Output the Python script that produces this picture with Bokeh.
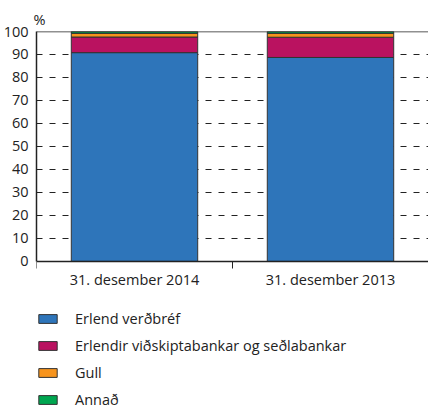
from bokeh.plotting import figure
from bokeh.models import (ColumnDataSource, FixedTicker, Legend, Span, Range1d)
from bokeh.embed import file_html
from bokeh.resources import INLINE

# ---- data ----
categories = ["31. desember 2014", "31. desember 2013"]
series_names = ["Erlend verðbréf", "Erlendir viðskiptabankar og seðlabankar", "Gull", "Annað"]
erlend_verdbref = [90.8, 88.7]
erlendir_bankar = [6.8, 8.8]
gull = [1.6, 1.7]
annad = [0.8, 0.8]
y_ticks = [0, 10, 20, 30, 40, 50, 60, 70, 80, 90, 100]
colors = ["#2E75BA", "#BA1260", "#F7941D", "#00A650"]

FONT = "Open Sans"
FS = "14.5px"
TXT = "#222222"

x_pos = [i + 0.5 for i in range(len(categories))]
keys = ["s0", "s1", "s2", "s3"]
source = ColumnDataSource(dict(x=x_pos, s0=erlend_verdbref, s1=erlendir_bankar, s2=gull, s3=annad))

# frame extends below 0 so the legend can sit inside it, under the axis
p = figure(frame_width=392, frame_height=378, output_backend="svg", toolbar_location=None,
           x_range=Range1d(0, len(categories)), y_range=Range1d(-64.4, 100),
           min_border_left=33, min_border_right=0, min_border_top=31, min_border_bottom=0)

renderers = p.vbar_stack(keys, x="x", width=0.645, source=source, color=colors,
                         line_color="#333333", line_width=1)

p.outline_line_color = None
p.background_fill_color = None
p.border_fill_color = "white"

# grid
p.xgrid.grid_line_color = None
p.ygrid.ticker = FixedTicker(ticks=y_ticks[1:-1])
p.ygrid.grid_line_color = TXT
p.ygrid.grid_line_dash = "6 7"
p.ygrid.grid_line_width = 1.2
p.ygrid.level = "underlay"
top = Span(location=y_ticks[-1], dimension="width", line_color=TXT, line_width=1.5)
p.add_layout(top)

# y axis
p.yaxis.ticker = FixedTicker(ticks=y_ticks)
p.yaxis.bounds = (y_ticks[0], y_ticks[-1])
p.yaxis.major_tick_line_color = None
p.yaxis.major_tick_out = 0
p.yaxis.minor_tick_line_color = None
p.yaxis.major_label_standoff = 8
p.yaxis.major_label_text_font = FONT
p.yaxis.major_label_text_font_size = FS
p.yaxis.major_label_text_color = TXT
p.yaxis.axis_line_color = TXT
p.yaxis.axis_line_width = 1.5

# x axis, pinned at y = 0
p.xaxis.fixed_location = y_ticks[0]
p.xaxis.ticker = FixedTicker(ticks=x_pos, minor_ticks=list(range(len(categories) + 1)))
p.xaxis.major_label_overrides = {x: c for x, c in zip(x_pos, categories)}
p.xaxis.major_tick_line_color = None
p.xaxis.major_tick_out = 0
p.xaxis.major_tick_in = 0
p.xaxis.minor_tick_line_color = TXT
p.xaxis.minor_tick_out = 7
p.xaxis.minor_tick_in = 0
p.xaxis.major_label_standoff = 2
p.xaxis.major_label_text_font = FONT
p.xaxis.major_label_text_font_size = FS
p.xaxis.major_label_text_color = TXT
p.xaxis.axis_line_color = TXT
p.xaxis.axis_line_width = 1.5

# title (%)
p.title.text = "%"
p.title.text_font = FONT
p.title.text_font_size = FS
p.title.text_font_style = "normal"
p.title.text_color = TXT
p.title.align = "left"
p.title.offset = -3
p.title.standoff = 5

# legend
legend = Legend(items=[(n, [r]) for n, r in zip(series_names, renderers)],
                location=(0, 0), orientation="vertical")
legend.border_line_color = None
legend.background_fill_alpha = 0
legend.glyph_width = 23
legend.glyph_height = 11
legend.label_height = 12
legend.spacing = 8
legend.label_standoff = 16
legend.padding = 0
legend.margin = 0
legend.label_text_font = FONT
legend.label_text_font_size = FS
legend.label_text_color = TXT
p.add_layout(legend, "center")

open("out.html", "w").write(file_html(p, INLINE))
